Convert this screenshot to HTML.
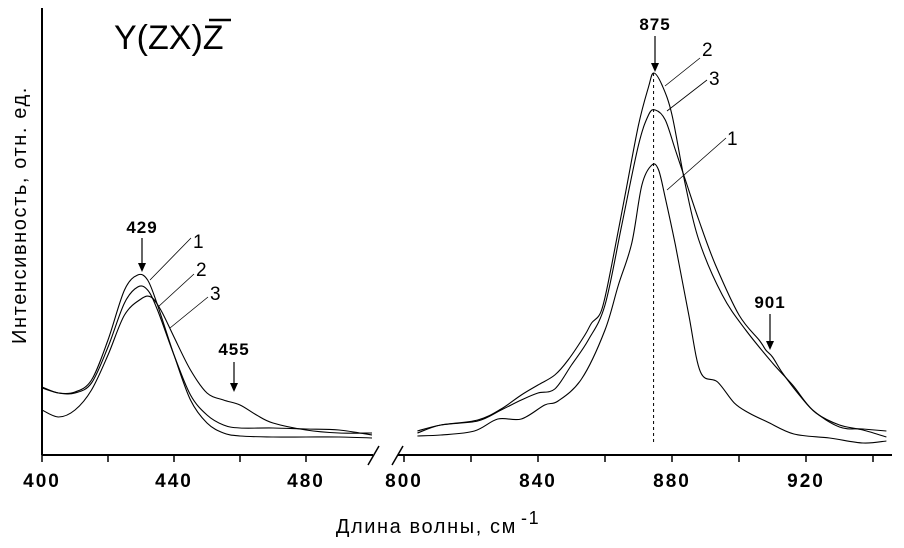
<!DOCTYPE html>
<html><head><meta charset="utf-8"><style>
body{margin:0;background:#fff}
svg{display:block;font-family:"Liberation Sans",Arial,sans-serif}
</style></head><body>
<svg id="chart" width="904" height="548" viewBox="0 0 904 548" xmlns="http://www.w3.org/2000/svg">
<g id="axes" stroke="#000" fill="none"></g>
<g id="plot"></g>
<g id="ann"></g>
<text x="114" y="49" font-size="34">Y(ZX)Z</text>
<line x1="209" y1="20" x2="231" y2="20" stroke="#000" stroke-width="2.5"/>
<text transform="translate(26,215) rotate(-90)" text-anchor="middle" font-size="20" letter-spacing="1.6">Интенсивность, отн. ед.</text>
<text x="438" y="533" text-anchor="middle" font-size="20" letter-spacing="1.6">Длина волны, см<tspan dx="4" dy="-9" font-size="18">-1</tspan></text>
</svg>
<script>
const leftTicks=[400,420,440,460,480];
const leftLabels=[400,440,480];
const rightTicks=[800,820,840,860,880,900,920,940];
const rightLabels=[800,840,880,920];
const L1x=[400,405,410,415,420,425,429,432,435,440,445,450,455,460,470,480,490,500];
const L1v=[68,62,63,75,115,165,180,175,150,100,55,32,22,19,18,18,18,17];
const L2x=[400,405,410,415,420,425,429,432,435,440,445,450,455,460,470,480,490,500];
const L2v=[67,62,62,72,108,152,168,165,145,100,60,40,30,27,27,26,25,20];
const L3x=[400,405,410,415,420,425,430,433,436,440,445,450,455,460,465,470,480,490,500];
const L3v=[45,38,45,65,100,140,156,158,145,118,85,62,55,50,40,32,25,22,22];
const R1x=[804,811,821,828,835,842,846,853,860,864,868,871,874,876,878,881,885,888.5,893.6,898.6,903,908.5,916.4,927,937,944];
const R1v=[19,20,24,36,36,50,54,76,125,170,212,270,290,285,257,210,140,83,73,52,42,33,21,17,12,14];
const R2x=[804,811,822,829,835,840,845,849,854,856,859,862,866,870,873,874.5,877,880,884,888,895,902,910,916,922,930,937,944];
const R2v=[24,30,35,46,60,70,80,95,120,132,145,190,260,330,368,382,370,340,270,215,160,125,92,70,45,28,26,24];
const R3x=[804,811,822,829,835,840,845,850,855,860,865,870,873,875,878,881,884,888,893,900,906,908,910,913,918,923,930,937,944];
const R3v=[22,30,34,45,55,62,66,90,115,150,230,310,340,345,335,305,275,235,190,140,115,105,98,82,60,42,30,25,18];

const NS="http://www.w3.org/2000/svg";
const AX=455;
function xL(u){return 42+(u-400)*3.3;}
function xR(u){return 404+(u-800)*3.35;}
function yV(v){return AX-v;}
function mk(tag,attrs,parent){const e=document.createElementNS(NS,tag);for(const k in attrs)e.setAttribute(k,attrs[k]);parent.appendChild(e);return e;}
const axes=document.getElementById('axes'),plot=document.getElementById('plot'),ann=document.getElementById('ann');

let a=mk('line',{x1:42,y1:8,x2:42,y2:AX,'stroke-width':2},axes);


a=mk('line',{x1:42,y1:AX,x2:373,y2:AX,'stroke-width':2},axes);


a=mk('line',{x1:398,y1:AX,x2:892,y2:AX,'stroke-width':2},axes);


a=mk('line',{x1:368,y1:465,x2:379,y2:446,'stroke-width':1.5},axes);


a=mk('line',{x1:392,y1:465,x2:403,y2:446,'stroke-width':1.5},axes);



function ticks(arr,labels,xf){
  arr.forEach(t=>{
    const x=xf(t);
    const tk=mk('line',{x1:x,y1:AX,x2:x,y2:AX+7,'stroke-width':1.5},axes);
    
    
  });
  labels.forEach(t=>{
    const tx=mk('text',{x:xf(t),y:AX+32,'text-anchor':'middle','font-size':19,'font-weight':'bold','letter-spacing':2,fill:'#000'},ann);
    tx.textContent=t;
    
    
  });
}
ticks(leftTicks,leftLabels,xL);
ticks(rightTicks,rightLabels,xR);

function series(xs,vs,xf,name){
  const P=xs.map((u,i)=>[xf(u),yV(vs[i])]);
  let d='M'+P[0][0].toFixed(1)+','+P[0][1].toFixed(1);
  for(let i=0;i<P.length-1;i++){
    const p0=P[Math.max(0,i-1)],p1=P[i],p2=P[i+1],p3=P[Math.min(P.length-1,i+2)];
    const c1=[p1[0]+(p2[0]-p0[0])/6,p1[1]+(p2[1]-p0[1])/6];
    const c2=[p2[0]-(p3[0]-p1[0])/6,p2[1]-(p3[1]-p1[1])/6];
    d+=` C${c1[0].toFixed(1)},${c1[1].toFixed(1)} ${c2[0].toFixed(1)},${c2[1].toFixed(1)} ${p2[0].toFixed(1)},${p2[1].toFixed(1)}`;
  }
  const p=mk('path',{d:d,fill:'none',stroke:'#000','stroke-width':1.1,'stroke-linejoin':'round'},plot);
  
  
}
series(L1x,L1v,xL,'curve-1-low-band');
series(L2x,L2v,xL,'curve-2-low-band');
series(L3x,L3v,xL,'curve-3-low-band');
series(R1x,R1v,xR,'curve-1-high-band');
series(R2x,R2v,xR,'curve-2-high-band');
series(R3x,R3v,xR,'curve-3-high-band');

let dl=mk('line',{x1:xR(874.5),y1:yV(382),x2:xR(874.5),y2:443,stroke:'#000','stroke-dasharray':'3,3','stroke-width':1},plot);



function peak(label,x,ty,y1,y2){
  const t=mk('text',{x:x,y:ty,'text-anchor':'middle','font-size':17,'font-weight':'bold','letter-spacing':1,fill:'#000'},ann);
  t.textContent=label;
  
  
  const l=mk('line',{x1:x,y1:y1,x2:x,y2:y2-6,stroke:'#000','stroke-width':1.2},ann);
  
  
  const h=mk('polygon',{points:`${x-4},${y2-9} ${x+4},${y2-9} ${x},${y2}`,fill:'#000'},ann);
  
  
}
peak('429',142,233,238,272);
peak('455',234,355,362,392);
peak('875',655,30,36,72);
peak('901',770,308,314,350);

function lead(n,tx,ty,x1,y1,x2,y2){
  const t=mk('text',{x:tx,y:ty,'font-size':19,fill:'#000'},ann);
  t.textContent=n;
  
  
  const l=mk('line',{x1:x1,y1:y1,x2:x2,y2:y2,stroke:'#000','stroke-width':0.8},ann);
  
  
}
lead('1',193,248,191,238,150,280);
lead('2',196,276,194,274,158,307);
lead('3',210,300,208,297,170,328);
lead('2',702,56,700,58,665,86);
lead('3',709,85,707,80,667,111);
lead('1',727,145,726,138,667,190);
</script>
</body></html>
